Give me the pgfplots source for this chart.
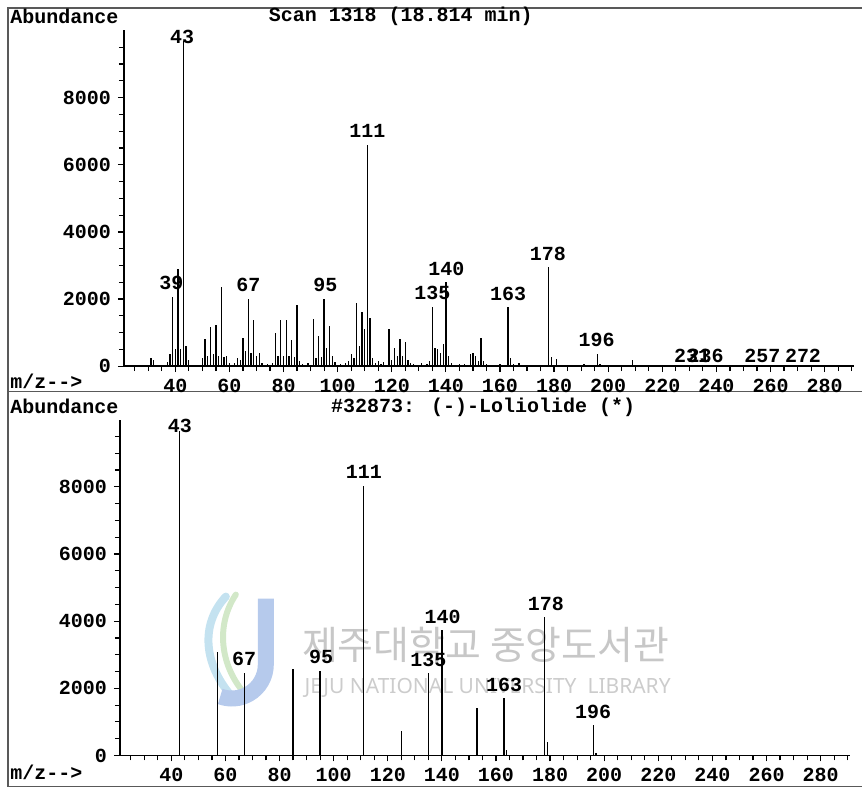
\documentclass[border=0pt]{standalone}
\usepackage{fontspec}
\setmainfont{Liberation Mono}
\newfontfamily\krfont{Noto Sans CJK KR}
\newfontfamily\wmfont{Noto Sans}
\usepackage{pgfplots}
\pgfplotsset{compat=1.18}

\pgfplotstableread{
mz ab
31 240
32 200
37 120
38 350
39 2050
40 500
41 2900
42 520
43 9700
44 590
45 180
50 240
51 800
52 300
53 1160
54 350
55 1230
56 300
57 2370
58 280
59 300
60 100
62 100
63 250
64 200
65 840
66 450
67 1990
68 400
69 1380
70 300
71 380
72 100
74 80
76 100
77 980
78 300
79 1380
80 300
81 1380
82 300
83 770
84 280
85 1830
86 150
87 80
89 100
91 1400
92 250
93 900
94 280
95 1990
96 550
97 1190
98 300
99 120
101 80
103 100
104 150
105 350
106 250
107 1880
108 600
109 1630
110 1100
111 6600
112 1450
113 250
114 100
115 150
116 80
117 120
119 1100
120 200
121 550
122 300
123 800
124 300
125 720
126 200
127 100
128 80
131 100
133 80
134 150
135 1750
136 550
137 500
138 400
139 650
140 2500
141 300
142 100
145 80
147 80
149 350
150 400
151 300
152 150
153 830
154 150
155 80
160 60
163 1750
164 250
165 60
167 100
170 50
178 2970
179 290
181 230
185 40
191 60
196 370
197 60
209 200
231 40
236 40
257 30
272 30
}\scandata

\pgfplotstableread{
mz ab
43 9650
57 3080
67 2450
85 2570
95 2520
111 8030
125 730
135 2450
140 3740
153 1420
163 1720
164 150
178 4110
179 400
196 905
197 80
}\libdata

\definecolor{wmblue}{RGB}{182,202,236}
\definecolor{wmcyan}{RGB}{196,226,240}
\definecolor{wmgreen}{RGB}{210,232,200}

\pgfplotsset{
  ms/.style={
    scale only axis,
    width=365.5pt, height=168pt,
    xmin=21, xmax=291, ymin=0, ymax=10000,
    axis x line*=bottom, axis y line*=left,
    xtick={40,60,...,280},
    minor xtick={25,30,...,290},
    ytick={0,2000,4000,6000,8000},
    minor ytick={500,1000,...,9500},
    tick align=outside,
    major tick length=3pt, minor tick length=2.5pt,
    scaled ticks=false,
    /pgf/number format/1000 sep={},
    /pgf/number format/assume math mode=true,
    tick label style={font=\bfseries},
    clip=false,
    axis line style={line width=0.8pt},
    every tick/.style={black, line width=0.6pt},
  },
  pk/.style={ycomb, black, line width=0.65pt, no marks},
}

\begin{document}
\begin{tikzpicture}[x=1pt,y=1pt]
\path (0,0) rectangle (431.5,394.5);
\coordinate (TA) at (62,211.25);
\coordinate (BA) at (60,16.5);

% watermark
\draw[wmcyan, line width=4pt, line cap=round] (113,96) .. controls (100,82) and (102,62) .. (116,46);
\draw[wmgreen, line width=3pt, line cap=round] (118,97) .. controls (108,82) and (110,62) .. (122,48);
\draw[wmblue, line width=8pt] (133,95) -- (133,62) arc[start angle=0, end angle=-110, radius=17pt];
\node[text=black!22, font=\krfont\fontsize{19.5}{20}\selectfont] at (243,72) {제주대학교 중앙도서관};
\node[text=black!20, font=\wmfont\fontsize{10.5}{11}\selectfont] at (244,50.5) {JEJU NATIONAL UNIVERSITY\ \ LIBRARY};

% frames
\draw[black!65, line width=0.6pt] (4,0.8) -- (4,390.5) -- (431.5,390.5);
\draw[black!65, line width=0.6pt] (4,198.5) -- (431.5,198.5);
\draw[black!65, line width=0.6pt] (4,0.8) -- (431.5,0.8);

% top texts
\node[anchor=west, font=\bfseries, inner sep=0pt] at (5,386.5) {Abundance};
\node[font=\bfseries, inner sep=0pt] at (200.5,386.5) {Scan 1318 (18.814 min)};
\node[anchor=west, font=\bfseries, inner sep=0pt] at (5,203.5) {m/z-{}-{}>};

% bottom texts
\node[anchor=west, font=\bfseries, inner sep=0pt] at (5,191) {Abundance};
\node[font=\bfseries, inner sep=0pt] at (241.75,190.5) {\#32873: (-)-Loliolide (*)};
\node[anchor=west, font=\bfseries, inner sep=0pt] at (5,8) {m/z-{}-{}>};

\begin{axis}[ms, at={(TA)}, anchor=south west]
\addplot[pk] table[x=mz, y=ab] {\scandata};
\begin{scope}[every node/.style={font=\bfseries, inner sep=0pt}]
\node at (axis cs:42.5,9800) {43};
\node at (axis cs:111,7000) {111};
\node at (axis cs:38.5,2470) {39};
\node at (axis cs:67,2410) {67};
\node at (axis cs:95.5,2410) {95};
\node at (axis cs:135,2175) {135};
\node at (axis cs:140.2,2885) {140};
\node at (axis cs:163,2155) {163};
\node at (axis cs:177.7,3360) {178};
\node at (axis cs:195.7,790) {196};
\node at (axis cs:231,310) {231};
\node at (axis cs:236,310) {236};
\node at (axis cs:257,310) {257};
\node at (axis cs:272,310) {272};
\end{scope}
\end{axis}

\begin{axis}[ms, at={(BA)}, anchor=south west]
\addplot[pk] table[x=mz, y=ab] {\libdata};
\begin{scope}[every node/.style={font=\bfseries, inner sep=0pt}]
\node at (axis cs:43.2,9800) {43};
\node at (axis cs:111.2,8440) {111};
\node at (axis cs:66.9,2865) {67};
\node at (axis cs:95.4,2925) {95};
\node at (axis cs:135,2835) {135};
\node at (axis cs:140.3,4135) {140};
\node at (axis cs:163,2105) {163};
\node at (axis cs:178.4,4520) {178};
\node at (axis cs:195.9,1310) {196};
\end{scope}
\end{axis}
\end{tikzpicture}
\end{document}
